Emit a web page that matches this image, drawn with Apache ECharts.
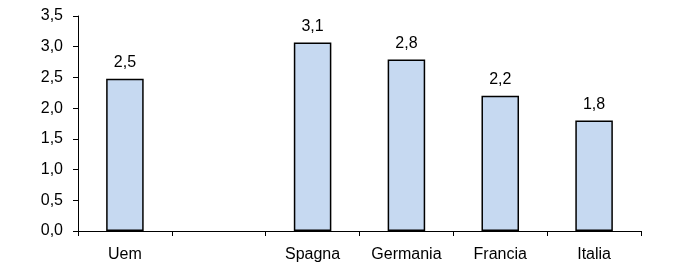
<!DOCTYPE html>
<html>
<head>
<meta charset="utf-8">
<script src="https://cdn.jsdelivr.net/npm/echarts@6/dist/echarts.min.js"></script>
<style>html,body{margin:0;padding:0;background:#fff}#c{width:700px;height:273px}</style>
</head>
<body>
<div id="c"></div>
<script>
const categories = ['Uem', '', 'Spagna', 'Germania', 'Francia', 'Italia'];
const values = [2.48, null, 3.07, 2.79, 2.2, 1.8];
const yTicks = [0, 0.5, 1, 1.5, 2, 2.5, 3, 3.5];

const FONT = '"Liberation Sans", Arial, sans-serif';
const FS = 16;
const fmt = v => Number(v).toFixed(1).replace('.', ',');
const chart = echarts.init(document.getElementById('c'), null, {renderer: 'canvas'});
chart.setOption({
  animation: false,
  grid: {left: 78, right: 59, top: 16, bottom: 42},
  xAxis: {
    type: 'category',
    data: categories,
    boundaryGap: true,
    axisLine: {lineStyle: {color: '#000', width: 1}},
    axisTick: {show: true, length: 5, alignWithLabel: false, lineStyle: {color: '#000'}},
    axisLabel: {color: '#000', fontFamily: FONT, fontSize: FS, margin: 16, interval: 0}
  },
  yAxis: {
    type: 'value',
    min: yTicks[0],
    max: yTicks[yTicks.length - 1],
    interval: 0.5,
    splitLine: {show: false},
    axisLine: {show: true, lineStyle: {color: '#000', width: 1}},
    axisTick: {show: true, length: 5, lineStyle: {color: '#000'}},
    axisLabel: {color: '#000', fontFamily: FONT, fontSize: FS, margin: 15, formatter: v => fmt(v)}
  },
  series: [{
    type: 'bar',
    data: values,
    barWidth: '40%',
    itemStyle: {color: '#C6D9F1', borderColor: '#000', borderWidth: 1.5},
    label: {
      show: true, position: 'top', distance: 8,
      color: '#000', fontFamily: FONT, fontSize: FS,
      formatter: p => fmt(p.value)
    }
  }]
});
</script>
</body>
</html>
